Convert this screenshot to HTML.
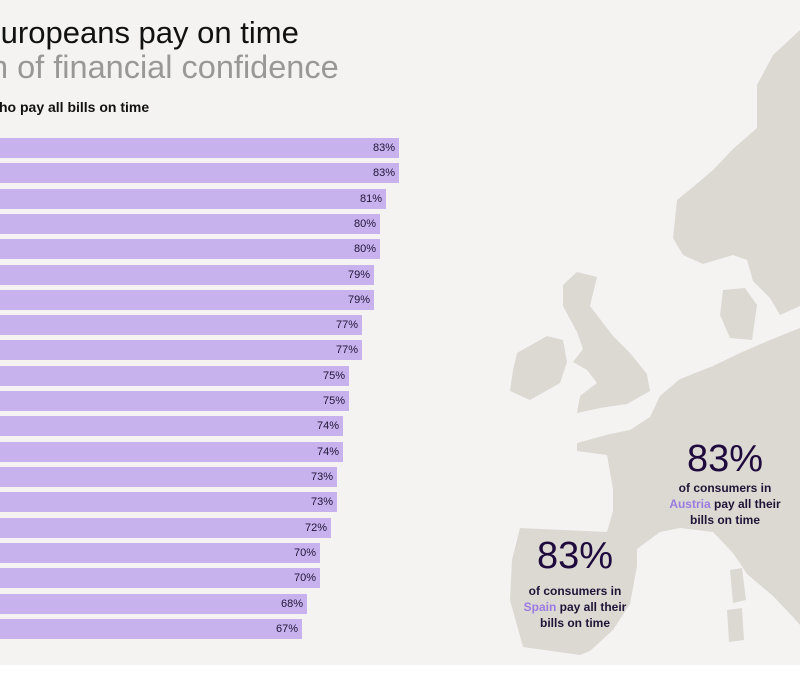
<!DOCTYPE html>
<html><head><meta charset="utf-8"><style>
body{margin:0;width:800px;height:700px;background:#fff;overflow:hidden;font-family:"Liberation Sans",sans-serif;}
#bg{position:absolute;left:0;top:0;width:800px;height:665px;background:#f4f3f2;}
.t{position:absolute;white-space:nowrap;}
.bar{position:absolute;left:0;height:20px;background:#c8b2ee;}
.bar span{position:absolute;right:4px;top:4px;font-size:11px;color:#1f1436;}
</style></head><body>
<div id="bg"></div>
<svg style="position:absolute;left:0;top:0" width="800" height="700">
<g fill="#dcd9d3">
<polygon points="800,30 773,55 757,85 757,128 733,149 713,170 693,187 677,200 673,238 683,255 703,264 733,255 747,260 753,281 770,298 780,315 800,306"/>
<polygon points="723,290 745,288 757,305 752,340 730,338 720,315"/>
<polygon points="800,328 770,340 740,353 713,366 680,379 660,396 650,417 630,430 610,434 577,443 577,451 607,455 613,489 613,511 607,532 520,528 512,560 510,600 523,647 580,655 590,651 613,630 630,604 637,566 637,549 660,532 680,528 713,532 733,553 747,574 773,596 793,617 800,625"/>
<polygon points="730,570 742,568 746,600 733,603"/>
<polygon points="727,610 742,608 744,640 729,642"/>
<polygon points="577,272 597,277 590,306 613,336 630,353 647,374 650,391 627,404 600,408 577,413 580,396 597,383 587,370 573,362 583,349 577,332 563,306 563,285"/>
<polygon points="517,353 547,336 563,340 567,362 560,383 530,400 510,391 513,370"/>
</g></svg>
<div class="t" style="left:-20px;top:15px;font-size:31px;color:#111;">Europeans pay on time</div>
<div class="t" style="left:-10px;top:49px;font-size:32.5px;color:#9a9897;">n of financial confidence</div>
<div class="t" style="left:-1px;top:99px;font-size:14px;font-weight:bold;color:#111;">ho pay all bills on time</div>
<div class="bar" style="top:138px;width:399px"><span>83%</span></div>
<div class="bar" style="top:163px;width:399px"><span>83%</span></div>
<div class="bar" style="top:189px;width:386px"><span>81%</span></div>
<div class="bar" style="top:214px;width:380px"><span>80%</span></div>
<div class="bar" style="top:239px;width:380px"><span>80%</span></div>
<div class="bar" style="top:265px;width:374px"><span>79%</span></div>
<div class="bar" style="top:290px;width:374px"><span>79%</span></div>
<div class="bar" style="top:315px;width:362px"><span>77%</span></div>
<div class="bar" style="top:340px;width:362px"><span>77%</span></div>
<div class="bar" style="top:366px;width:349px"><span>75%</span></div>
<div class="bar" style="top:391px;width:349px"><span>75%</span></div>
<div class="bar" style="top:416px;width:343px"><span>74%</span></div>
<div class="bar" style="top:442px;width:343px"><span>74%</span></div>
<div class="bar" style="top:467px;width:337px"><span>73%</span></div>
<div class="bar" style="top:492px;width:337px"><span>73%</span></div>
<div class="bar" style="top:518px;width:331px"><span>72%</span></div>
<div class="bar" style="top:543px;width:320px"><span>70%</span></div>
<div class="bar" style="top:568px;width:320px"><span>70%</span></div>
<div class="bar" style="top:594px;width:307px"><span>68%</span></div>
<div class="bar" style="top:619px;width:302px"><span>67%</span></div>
<div class="t" style="left:665px;top:438px;width:120px;text-align:center;font-size:38px;color:#1f0a3d;">83%</div>
<div class="t" style="left:655px;top:480px;width:140px;text-align:center;font-size:12px;line-height:16px;font-weight:bold;color:#1f1436;">of consumers in<br><span style="color:#9b7be0">Austria</span> pay all their<br>bills on time</div>
<div class="t" style="left:515px;top:535px;width:120px;text-align:center;font-size:38px;color:#1f0a3d;">83%</div>
<div class="t" style="left:505px;top:583px;width:140px;text-align:center;font-size:12px;line-height:16px;font-weight:bold;color:#1f1436;">of consumers in<br><span style="color:#9b7be0">Spain</span> pay all their<br>bills on time</div>
</body></html>
